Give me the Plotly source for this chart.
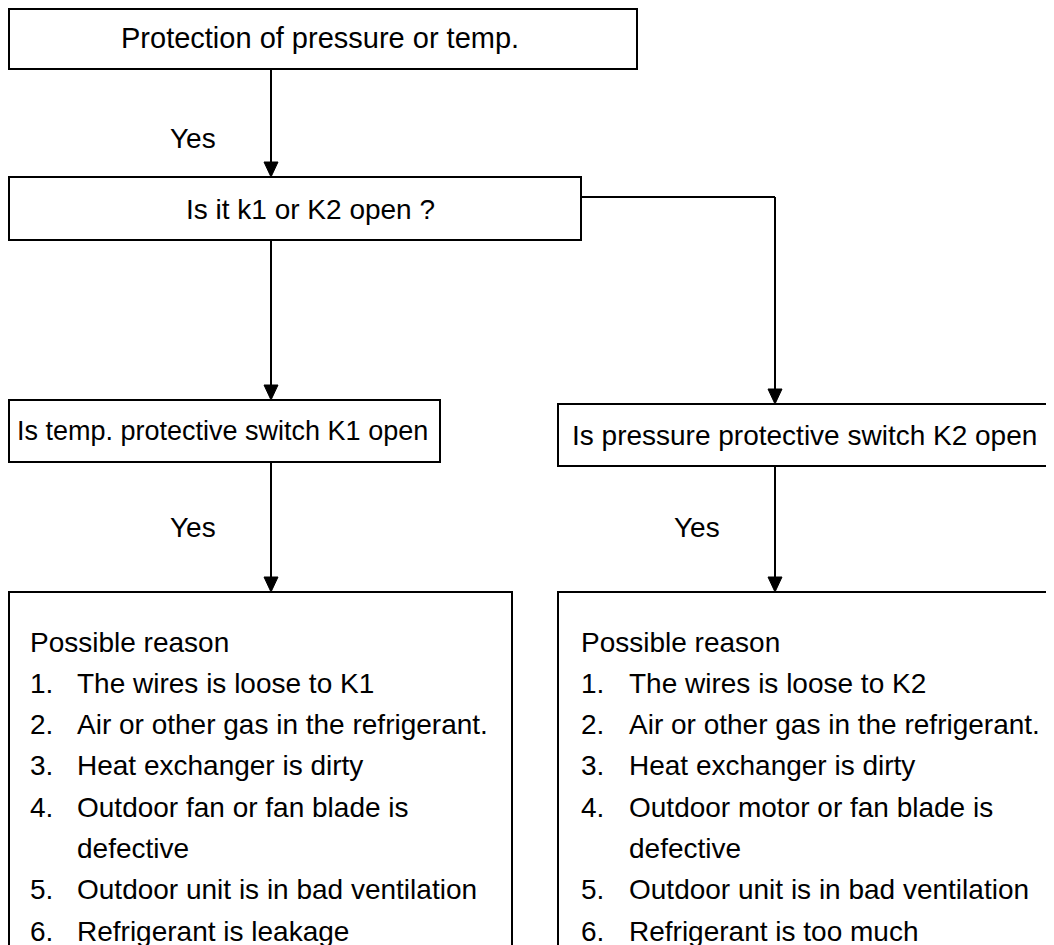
import plotly.graph_objects as go

# ---- content (text data) ----
node_titles = [
    "Protection of pressure or temp.",
    "Is it k1 or K2 open ?",
    "Is temp. protective switch K1 open",
    "Is pressure protective switch K2 open",
]
edge_labels = ["Yes", "Yes", "Yes"]
reason_header = "Possible reason"
left_reasons = [
    ["The wires is loose to K1"],
    ["Air or other gas in the refrigerant."],
    ["Heat exchanger is dirty"],
    ["Outdoor fan or fan blade is", "defective"],
    ["Outdoor unit is in bad ventilation"],
    ["Refrigerant is leakage"],
]
right_reasons = [
    ["The wires is loose to K2"],
    ["Air or other gas in the refrigerant."],
    ["Heat exchanger is dirty"],
    ["Outdoor motor or fan blade is", "defective"],
    ["Outdoor unit is in bad ventilation"],
    ["Refrigerant is too much"],
]

# ---- layout geometry (window pixel space; page body has an 8px margin) ----
W, H = 1054, 945
OFF = 8
FONT = "Liberation Sans, Arial, Helvetica, sans-serif"
FS = 28
LW = 2
L = 9  # left edge of the left column of boxes (first visible pixel column)

boxes = [  # x0, y0, x1, y1
    (L, 9, 637, 69),
    (L, 177, 581, 240),
    (L, 400, 440, 462),
    (558, 404, 1048, 466),
]
title_pos = [(320, 38, "center", 29), (310, 209, "center", 28),
             (15, 431, "left", 27), (804, 435, "center", 28)]
bottom_boxes = [(L, 592, 512, 1000), (558, 592, 1080, 1000)]
yes_pos = [(193, 138), (193, 527), (697, 527)]

fig = go.Figure()
shapes = []
annotations = []


def rect(x0, y0, x1, y1):
    shapes.append(dict(type="rect", xref="x", yref="y", x0=x0, y0=y0, x1=x1, y1=y1,
                       line=dict(color="black", width=LW), fillcolor="white", layer="below"))


def line(x0, y0, x1, y1):
    shapes.append(dict(type="line", xref="x", yref="y", x0=x0, y0=y0, x1=x1, y1=y1,
                       line=dict(color="black", width=LW)))


def arrow(x, y0, y1):
    line(x, y0, x, y1 - 12)
    shapes.append(dict(type="path", xref="x", yref="y",
                       path=f"M {x-7},{y1-15} L {x+7},{y1-15} L {x},{y1} Z",
                       fillcolor="black", line=dict(color="black", width=1)))


def text(x, y, s, anchor="center", size=FS):
    annotations.append(dict(x=x, y=y, xref="x", yref="y", text=s, showarrow=False,
                            xanchor=anchor, yanchor="middle",
                            font=dict(family=FONT, size=size, color="black")))


for b in boxes:
    rect(*b)
for b in bottom_boxes:
    rect(*b)

for (x, y, a, fs), s in zip(title_pos, node_titles):
    text(x, y, s, a, fs)

# connectors
arrow(271, boxes[0][3], boxes[1][1])
arrow(271, boxes[1][3], boxes[2][1])
line(boxes[1][2], 197, 775, 197)
arrow(775, 197, boxes[3][1])
arrow(271, boxes[2][3], bottom_boxes[0][1])
arrow(775, boxes[3][3], bottom_boxes[1][1])

for (x, y), s in zip(yes_pos, edge_labels):
    text(x, y, s)


def reason_list(x_num, x_txt, y_start, items, step=41.3):
    text(x_num, y_start, reason_header, "left")
    y = y_start + step
    for i, parts in enumerate(items, start=1):
        for j, part in enumerate(parts):
            if j == 0:
                text(x_num, y, f"{i}.", "left")
            text(x_txt, y, part, "left")
            y += step


reason_list(28, 75, 642, left_reasons)
reason_list(579, 627, 642, right_reasons)

fig.update_layout(
    width=W, height=H,
    margin=dict(l=0, r=0, t=0, b=0),
    paper_bgcolor="white", plot_bgcolor="white",
    xaxis=dict(range=[OFF, W + OFF], visible=False, fixedrange=True),
    yaxis=dict(range=[H + OFF, OFF], visible=False, fixedrange=True),
    shapes=shapes, annotations=annotations, showlegend=False,
)
fig.write_html("out.html")
